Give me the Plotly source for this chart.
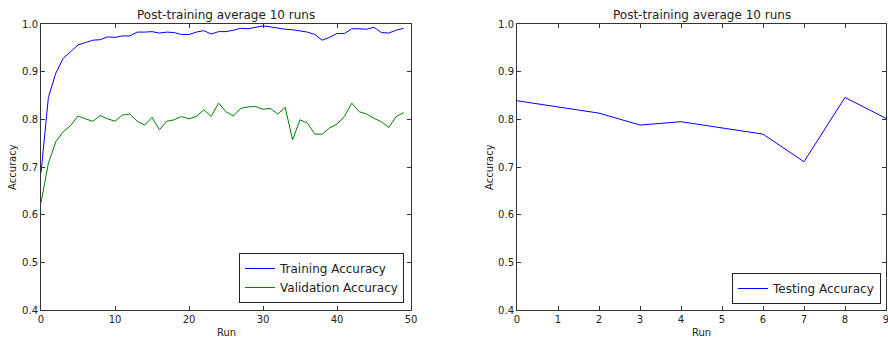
import plotly.graph_objects as go

# Per-epoch averages over 10 runs
epochs = list(range(50))
training_acc = [
    0.688, 0.846, 0.897, 0.928, 0.942, 0.956, 0.961, 0.966, 0.967, 0.973,
    0.972, 0.975, 0.975, 0.983, 0.983, 0.984, 0.981, 0.983, 0.982, 0.978,
    0.978, 0.983, 0.986, 0.979, 0.984, 0.984, 0.987, 0.991, 0.990, 0.993,
    0.996, 0.994, 0.991, 0.989, 0.988, 0.986, 0.983, 0.978, 0.966, 0.972,
    0.980, 0.980, 0.990, 0.990, 0.989, 0.993, 0.982, 0.981, 0.987, 0.991,
]
validation_acc = [
    0.625, 0.708, 0.753, 0.774, 0.787, 0.807, 0.801, 0.796, 0.808, 0.801,
    0.796, 0.809, 0.811, 0.796, 0.788, 0.804, 0.778, 0.796, 0.799, 0.806,
    0.801, 0.806, 0.820, 0.806, 0.834, 0.816, 0.807, 0.823, 0.826, 0.827,
    0.821, 0.823, 0.811, 0.825, 0.757, 0.799, 0.792, 0.769, 0.769, 0.782,
    0.790, 0.806, 0.834, 0.816, 0.811, 0.802, 0.795, 0.783, 0.806, 0.814,
]

# Test accuracy per run
runs = list(range(10))
testing_acc = [0.839, 0.826, 0.813, 0.788, 0.795, 0.782, 0.769, 0.711, 0.846, 0.802]

y_ticks = [0.4, 0.5, 0.6, 0.7, 0.8, 0.9, 1.0]
title_text = "Post-training average 10 runs"

W, H = 888, 340
FONT = "DejaVu Sans, sans-serif"
BLUE = "#0000ff"
GREEN = "#008000"
INK = "#222222"

def px_x(p):
    return p / W

def px_y(p):
    return 1 - p / H

fig = go.Figure()
fig.add_trace(go.Scatter(x=epochs, y=training_acc, mode="lines", name="Training Accuracy",
                         line=dict(color=BLUE, width=1), xaxis="x", yaxis="y", legend="legend"))
fig.add_trace(go.Scatter(x=epochs, y=validation_acc, mode="lines", name="Validation Accuracy",
                         line=dict(color=GREEN, width=1), xaxis="x", yaxis="y", legend="legend"))
fig.add_trace(go.Scatter(x=runs, y=testing_acc, mode="lines", name="Testing Accuracy",
                         line=dict(color=BLUE, width=1), xaxis="x2", yaxis="y2", legend="legend2"))

axis_common = dict(
    showgrid=False, zeroline=False, showline=True, linecolor="#333333", linewidth=1,
    mirror="ticks", ticks="inside", ticklen=4, tickcolor="#333333", automargin=False,
    tickfont=dict(family=FONT, size=10, color=INK), ticklabeloverflow="allow",
)

top, bottom = px_y(24), px_y(310)
left_dom = [px_x(41), px_x(411)]
right_dom = [px_x(517), px_x(886)]

def label(text, x, y, angle=0, size=10):
    return dict(text=text, x=x, y=y, xref="paper", yref="paper", xanchor="center",
                yanchor="middle", textangle=angle, showarrow=False,
                font=dict(family=FONT, size=size, color=INK))

annotations = []
for dom in (left_dom, right_dom):
    cx = (dom[0] + dom[1]) / 2
    annotations.append(dict(text=title_text, x=cx, y=top, xref="paper", yref="paper",
                            xanchor="center", yanchor="bottom", yshift=0, showarrow=False,
                            font=dict(family=FONT, size=12, color=INK)))
    annotations.append(label("Run", cx, px_y(332)))
annotations.append(label("Accuracy", px_x(12), (top + bottom) / 2, angle=-90))
annotations.append(label("Accuracy", px_x(489), (top + bottom) / 2, angle=-90))

fig.update_layout(
    width=W, height=H,
    margin=dict(l=0, r=0, t=0, b=0),
    paper_bgcolor="white", plot_bgcolor="white",
    font=dict(family=FONT, color=INK),
    xaxis=dict(domain=left_dom, range=[0, 50], tickvals=[0, 10, 20, 30, 40, 50],
               anchor="y", **axis_common),
    yaxis=dict(domain=[bottom, top], range=[0.4, 1.0], tickvals=y_ticks, tickformat=".1f",
               anchor="x", **axis_common),
    xaxis2=dict(domain=right_dom, range=[0, 9], tickvals=runs, anchor="y2", **axis_common),
    yaxis2=dict(domain=[bottom, top], range=[0.4, 1.0], tickvals=y_ticks, tickformat=".1f",
                anchor="x2", **axis_common),
    legend=dict(x=px_x(404), y=px_y(303), xanchor="right", yanchor="bottom",
                bordercolor=INK, borderwidth=1, bgcolor="white",
                font=dict(family=FONT, size=12), itemwidth=30, tracegroupgap=0),
    legend2=dict(x=px_x(881), y=px_y(304), xanchor="right", yanchor="bottom",
                 bordercolor=INK, borderwidth=1, bgcolor="white",
                 font=dict(family=FONT, size=12), itemwidth=30),
    showlegend=True,
    annotations=annotations,
)

fig.write_html("out.html")
